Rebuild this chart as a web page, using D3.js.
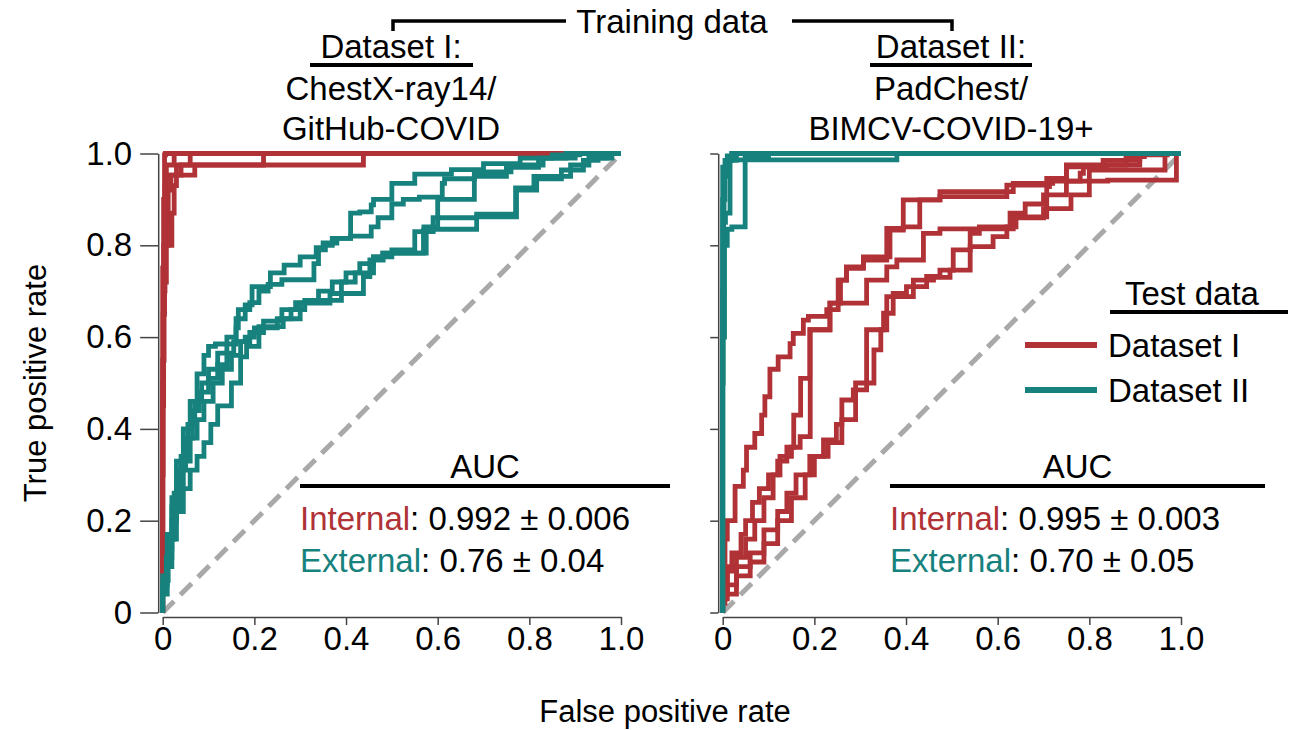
<!DOCTYPE html>
<html>
<head>
<meta charset="utf-8">
<script src="https://cdn.jsdelivr.net/npm/d3@7"></script>
<style>
body { margin: 0; background: #fff; }
text { font-family: "Liberation Sans", Arial, Helvetica, sans-serif; }
</style>
</head>
<body>
<script>
var rateTicks = [0, 0.2, 0.4, 0.6, 0.8, 1.0];

// trained on Dataset I, tested on Dataset I (internal)
var trainI_testI = [
  [[0,0],[0,0.6],[0.002,0.75],[0.004,0.9],[0.006,0.997],[1,1]],
  [[0,0],[0.002,0.45],[0.005,0.7],[0.012,0.8],[0.018,0.92],[0.02,0.953],[0.07,0.953],[0.07,0.975],[0.22,0.975],[0.22,1],[1,1]],
  [[0,0],[0.003,0.55],[0.008,0.72],[0.02,0.8],[0.025,0.87],[0.03,0.93],[0.035,0.975],[0.438,0.975],[0.438,1],[1,1]],
  [[0,0],[0.001,0.3],[0.004,0.65],[0.008,0.85],[0.01,0.953],[0.04,0.953],[0.06,0.975],[0.06,1],[1,1]],
  [[0,0],[0.002,0.5],[0.005,0.8],[0.008,0.93],[0.01,0.975],[0.025,0.975],[0.025,1],[1,1]]
];
// trained on Dataset I, tested on Dataset II (external)
var trainI_testII = [
  [[0,0],[0.01,0.08],[0.02,0.17],[0.03,0.25],[0.045,0.33],[0.06,0.4],[0.075,0.46],[0.09,0.52],[0.1,0.56],[0.115,0.58],[0.16,0.585],[0.165,0.62],[0.18,0.66],[0.195,0.67],[0.235,0.71],[0.265,0.74],[0.3,0.757],[0.335,0.775],[0.35,0.795],[0.38,0.805],[0.41,0.815],[0.43,0.87],[0.455,0.873],[0.46,0.888],[0.5,0.9],[0.55,0.935],[0.63,0.955],[0.7,0.965],[0.78,0.978],[0.85,0.99],[0.91,0.997],[1,1]],
  [[0,0],[0.012,0.07],[0.025,0.16],[0.04,0.26],[0.055,0.34],[0.07,0.41],[0.085,0.46],[0.1,0.5],[0.12,0.53],[0.14,0.565],[0.16,0.6],[0.18,0.64],[0.19,0.66],[0.21,0.675],[0.23,0.7],[0.26,0.715],[0.33,0.725],[0.34,0.76],[0.355,0.79],[0.37,0.8],[0.41,0.815],[0.455,0.82],[0.47,0.84],[0.5,0.86],[0.525,0.89],[0.56,0.9],[0.61,0.905],[0.615,0.935],[0.68,0.945],[0.76,0.96],[0.83,0.975],[0.9,0.99],[0.96,1],[1,1]],
  [[0,0],[0.01,0.06],[0.02,0.14],[0.035,0.23],[0.05,0.31],[0.065,0.38],[0.08,0.44],[0.1,0.48],[0.12,0.51],[0.14,0.54],[0.155,0.565],[0.18,0.59],[0.2,0.6],[0.25,0.62],[0.28,0.64],[0.31,0.66],[0.34,0.68],[0.37,0.7],[0.4,0.72],[0.43,0.74],[0.46,0.76],[0.5,0.775],[0.55,0.79],[0.57,0.83],[0.6,0.84],[0.62,0.9],[0.68,0.9],[0.68,0.935],[0.75,0.95],[0.82,0.97],[0.88,0.99],[0.95,1],[1,1]],
  [[0,0],[0.008,0.05],[0.02,0.12],[0.03,0.2],[0.045,0.27],[0.06,0.33],[0.075,0.38],[0.09,0.42],[0.11,0.46],[0.13,0.5],[0.15,0.53],[0.17,0.56],[0.19,0.59],[0.22,0.61],[0.26,0.635],[0.29,0.66],[0.32,0.675],[0.39,0.68],[0.42,0.72],[0.46,0.74],[0.48,0.775],[0.575,0.783],[0.59,0.83],[0.685,0.86],[0.77,0.868],[0.81,0.925],[0.89,0.95],[0.93,0.975],[0.97,0.99],[1,1]],
  [[0,0],[0.01,0.04],[0.02,0.1],[0.03,0.16],[0.045,0.22],[0.06,0.27],[0.075,0.31],[0.09,0.34],[0.105,0.37],[0.12,0.41],[0.15,0.45],[0.17,0.5],[0.183,0.557],[0.21,0.58],[0.263,0.623],[0.3,0.64],[0.365,0.674],[0.438,0.695],[0.452,0.732],[0.481,0.768],[0.569,0.783],[0.59,0.833],[0.685,0.835],[0.685,0.855],[0.772,0.862],[0.816,0.92],[0.87,0.945],[0.918,0.964],[0.95,0.985],[0.98,0.99],[1,1]]
];
// trained on Dataset II, tested on Dataset I (external)
var trainII_testI = [
  [[0,0],[0.005,0.08],[0.01,0.16],[0.027,0.2],[0.027,0.25],[0.045,0.275],[0.052,0.31],[0.07,0.36],[0.085,0.39],[0.092,0.43],[0.103,0.47],[0.121,0.53],[0.147,0.557],[0.154,0.586],[0.176,0.608],[0.187,0.637],[0.227,0.645],[0.252,0.66],[0.27,0.724],[0.307,0.75],[0.365,0.775],[0.394,0.833],[0.474,0.899],[0.62,0.917],[0.707,0.931],[0.75,0.946],[0.83,0.971],[0.91,0.985],[0.97,0.997],[1,1]],
  [[0,0],[0.01,0.03],[0.02,0.1],[0.04,0.13],[0.05,0.17],[0.065,0.2],[0.08,0.24],[0.1,0.27],[0.12,0.3],[0.14,0.33],[0.155,0.36],[0.17,0.43],[0.17,0.5],[0.19,0.51],[0.19,0.586],[0.234,0.616],[0.234,0.648],[0.257,0.674],[0.27,0.724],[0.307,0.753],[0.358,0.768],[0.394,0.837],[0.43,0.84],[0.474,0.899],[0.62,0.906],[0.634,0.917],[0.72,0.935],[0.75,0.946],[0.83,0.975],[0.91,0.975],[0.91,0.997],[1,1]],
  [[0,0],[0.01,0.05],[0.03,0.09],[0.05,0.12],[0.07,0.16],[0.09,0.2],[0.11,0.25],[0.125,0.3],[0.15,0.34],[0.169,0.36],[0.191,0.383],[0.191,0.507],[0.191,0.586],[0.234,0.616],[0.314,0.674],[0.358,0.724],[0.38,0.753],[0.438,0.768],[0.474,0.826],[0.474,0.836],[0.634,0.836],[0.634,0.862],[0.707,0.862],[0.713,0.928],[0.78,0.94],[0.787,0.957],[0.838,0.971],[0.88,0.975],[0.92,0.993],[1,1]],
  [[0,0],[0.01,0.04],[0.03,0.06],[0.06,0.1],[0.09,0.13],[0.12,0.18],[0.14,0.22],[0.16,0.26],[0.19,0.3],[0.22,0.34],[0.248,0.376],[0.26,0.41],[0.285,0.463],[0.314,0.485],[0.314,0.557],[0.351,0.616],[0.372,0.652],[0.401,0.695],[0.445,0.71],[0.474,0.732],[0.503,0.746],[0.54,0.79],[0.56,0.826],[0.627,0.84],[0.66,0.87],[0.7,0.89],[0.75,0.91],[0.8,0.94],[0.85,0.964],[0.965,0.964],[0.965,0.99],[0.99,1],[1,1]],
  [[0,0],[0.005,0.02],[0.03,0.04],[0.06,0.08],[0.09,0.11],[0.12,0.15],[0.15,0.2],[0.18,0.25],[0.2,0.3],[0.23,0.34],[0.26,0.37],[0.29,0.42],[0.33,0.5],[0.345,0.572],[0.358,0.616],[0.416,0.688],[0.46,0.724],[0.496,0.73],[0.54,0.746],[0.59,0.797],[0.62,0.819],[0.64,0.84],[0.7,0.86],[0.76,0.88],[0.8,0.91],[0.84,0.94],[0.99,0.942],[0.99,1],[1,1]]
];
// trained on Dataset II, tested on Dataset II (internal)
var trainII_testII = [
  [[0,0],[0,0.82],[0.005,0.9],[0.01,0.96],[0.02,0.985],[0.04,1],[1,1]],
  [[0,0],[0.002,0.7],[0.006,0.85],[0.016,0.87],[0.016,0.97],[0.03,0.985],[0.066,0.986],[0.38,0.986],[0.38,1],[1,1]],
  [[0,0],[0.004,0.6],[0.01,0.8],[0.02,0.835],[0.049,0.84],[0.049,0.97],[0.07,0.99],[0.1,0.995],[0.1,1],[1,1]],
  [[0,0],[0.001,0.5],[0.003,0.88],[0.008,0.95],[0.015,0.975],[0.03,0.99],[0.045,1],[1,1]],
  [[0,0],[0,0.9],[0.005,0.97],[0.01,0.985],[0.02,0.995],[0.03,1],[1,1]]
];

var aucLabels = ['Internal', 'External'];
var aucI = ['0.992 \u00b1 0.006', '0.76 \u00b1 0.04'];
var aucII = ['0.995 \u00b1 0.003', '0.70 \u00b1 0.05'];
var legendLabels = ['Dataset I', 'Dataset II'];

var red = '#b03236', teal = '#17827d';

var svg = d3.select('body').append('svg')
    .attr('width', 1304)
    .attr('height', 730);

var y = d3.scaleLinear().domain([0, 1]).range([612.5, 153.5]);
var fmt = function(d) { return d === 0 ? '0' : d.toFixed(1); };

var panels = [
  { x0: 162.7, red: trainI_testI, teal: trainI_testII, auc: aucI, aucX: 300, aucEnd: 670, labels: true },
  { x0: 722.7, red: trainII_testI, teal: trainII_testII, auc: aucII, aucX: 890, aucEnd: 1265, labels: false }
];

panels.forEach(function(p) {
  var x = d3.scaleLinear().domain([0, 1]).range([p.x0, p.x0 + 458.3]);
  var g = svg.append('g');

  // chance line
  g.append('line')
      .attr('x1', x(0)).attr('y1', y(0))
      .attr('x2', x(1)).attr('y2', y(1))
      .attr('stroke', '#a9a9a9')
      .attr('stroke-width', 5)
      .attr('stroke-dasharray', '16 9');

  var line = d3.line()
      .x(function(d) { return x(d[0]); })
      .y(function(d) { return y(d[1]); })
      .curve(d3.curveStepBefore);

  g.selectAll('path.red')
      .data(p.red)
      .enter().append('path')
      .attr('class', 'red')
      .attr('d', line)
      .attr('fill', 'none')
      .attr('stroke', red)
      .attr('stroke-width', 4.8);

  g.selectAll('path.teal')
      .data(p.teal)
      .enter().append('path')
      .attr('class', 'teal')
      .attr('d', line)
      .attr('fill', 'none')
      .attr('stroke', teal)
      .attr('stroke-width', 4.8);

  // axes, detached a few pixels from the data area
  var xAxis = d3.axisBottom(x).tickValues(rateTicks).tickFormat(fmt)
      .tickSizeOuter(0).tickSizeInner(8).tickPadding(2);
  var xg = g.append('g')
      .attr('transform', 'translate(0,617)')
      .call(xAxis);

  var yAxis = d3.axisLeft(y).tickValues(rateTicks).tickSizeOuter(0)
      .tickSizeInner(p.labels ? 18 : 8).tickPadding(8)
      .tickFormat(p.labels ? fmt : '');
  var yg = g.append('g')
      .attr('transform', 'translate(' + (p.x0 - 4.5) + ',0)')
      .call(yAxis);

  [xg, yg].forEach(function(a) {
    a.select('.domain').attr('stroke', '#444').attr('stroke-width', 1.5);
    a.selectAll('.tick line').attr('stroke', '#444').attr('stroke-width', 1.5);
    a.selectAll('.tick text').attr('font-size', 33).attr('fill', '#000')
        .style('font-family', '"Liberation Sans", Arial, sans-serif');
  });

  // AUC block
  var aucMid = (p.aucX + p.aucEnd) / 2;
  g.append('text').text('AUC')
      .attr('x', aucMid).attr('y', 478)
      .attr('text-anchor', 'middle')
      .attr('font-size', 33);
  g.append('line')
      .attr('x1', p.aucX).attr('x2', p.aucEnd)
      .attr('y1', 486).attr('y2', 486)
      .attr('stroke', '#000').attr('stroke-width', 4);
  var rows = g.selectAll('text.auc')
      .data(p.auc)
      .enter().append('text')
      .attr('class', 'auc')
      .attr('x', p.aucX)
      .attr('y', function(d, i) { return 530 + i * 42; })
      .attr('font-size', 33);
  rows.append('tspan')
      .attr('fill', function(d, i) { return i === 0 ? red : teal; })
      .text(function(d, i) { return aucLabels[i]; });
  rows.append('tspan')
      .attr('fill', '#000')
      .text(function(d) { return ': ' + d; });
});

// axis titles
svg.append('text').text('True positive rate')
    .attr('transform', 'translate(46,383) rotate(-90)')
    .attr('text-anchor', 'middle')
    .attr('font-size', 31);
svg.append('text').text('False positive rate')
    .attr('x', 665).attr('y', 722)
    .attr('text-anchor', 'middle')
    .attr('font-size', 31);

// training data header
svg.append('text').text('Training data')
    .attr('x', 672).attr('y', 33)
    .attr('text-anchor', 'middle')
    .attr('font-size', 33);
svg.append('path')
    .attr('d', 'M393,31V21H566M792,21H952V31')
    .attr('fill', 'none').attr('stroke', '#000').attr('stroke-width', 3.5);

var headers = [
  { cx: 391, lines: ['Dataset I:', 'ChestX-ray14/', 'GitHub-COVID'], u: [310, 473] },
  { cx: 951, lines: ['Dataset II:', 'PadChest/', 'BIMCV-COVID-19+'], u: [870, 1032] }
];
headers.forEach(function(h) {
  svg.selectAll(null)
      .data(h.lines)
      .enter().append('text')
      .attr('x', h.cx)
      .attr('y', function(d, i) { return i === 0 ? 58 : 60 + i * 40; })
      .attr('text-anchor', 'middle')
      .attr('font-size', 33)
      .text(function(d) { return d; });
  svg.append('line')
      .attr('x1', h.u[0]).attr('x2', h.u[1])
      .attr('y1', 65).attr('y2', 65)
      .attr('stroke', '#000').attr('stroke-width', 4);
});

// legend
svg.append('text').text('Test data')
    .attr('x', 1125).attr('y', 305)
    .attr('font-size', 33);
svg.append('line')
    .attr('x1', 1110).attr('x2', 1288)
    .attr('y1', 312).attr('y2', 312)
    .attr('stroke', '#000').attr('stroke-width', 4);
var leg = svg.selectAll('g.leg')
    .data(legendLabels)
    .enter().append('g')
    .attr('class', 'leg')
    .attr('transform', function(d, i) { return 'translate(0,' + (345 + i * 45) + ')'; });
leg.append('line')
    .attr('x1', 1025).attr('x2', 1097)
    .attr('stroke', function(d, i) { return i === 0 ? red : teal; })
    .attr('stroke-width', 6);
leg.append('text')
    .attr('x', 1108).attr('y', 12)
    .attr('font-size', 33)
    .text(function(d) { return d; });
</script>
</body>
</html>
